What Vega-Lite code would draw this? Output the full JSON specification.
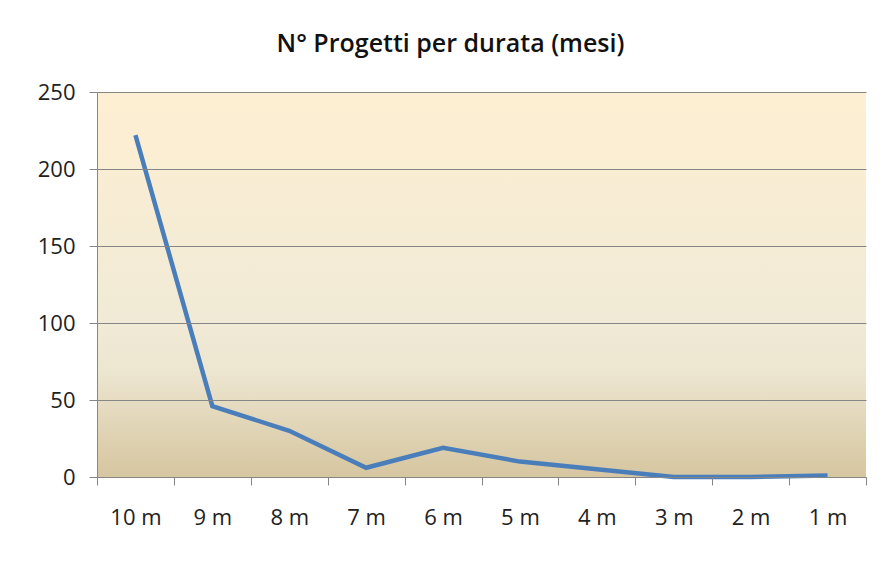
{
  "$schema": "https://vega.github.io/schema/vega-lite/v6.json",
  "width": 769,
  "height": 385,
  "autosize": {"type": "none"},
  "padding": {"left": 97, "top": 92, "right": 20, "bottom": 85},
  "background": "white",
  "config": {
    "view": {"stroke": null},
    "font": "Open Sans",
    "axis": {
      "labelFont": "Open Sans",
      "labelFontSize": 22,
      "labelColor": "#222222",
      "tickSize": 8,
      "tickColor": "#868686",
      "domainColor": "#868686",
      "gridColor": "#868686",
      "gridOpacity": 1,
      "title": null
    }
  },
  "title": {
    "text": "N° Progetti per durata (mesi)",
    "font": "Open Sans",
    "fontSize": 25,
    "fontWeight": 600,
    "color": "#111111",
    "offset": 24,
    "dx": -31
  },
  "data": {
    "values": [
      {"durata": "10 m", "progetti": 222},
      {"durata": "9 m", "progetti": 46},
      {"durata": "8 m", "progetti": 30},
      {"durata": "7 m", "progetti": 6},
      {"durata": "6 m", "progetti": 19},
      {"durata": "5 m", "progetti": 10},
      {"durata": "4 m", "progetti": 5},
      {"durata": "3 m", "progetti": 0},
      {"durata": "2 m", "progetti": 0},
      {"durata": "1 m", "progetti": 1}
    ]
  },
  "layer": [
    {
      "mark": {
        "type": "rect",
        "color": {
          "gradient": "linear",
          "x1": 0, "y1": 0, "x2": 0, "y2": 1,
          "stops": [
            {"offset": 0, "color": "#FEEFD2"},
            {"offset": 0.6, "color": "#F0EAD6"},
            {"offset": 0.72, "color": "#EDE6D1"},
            {"offset": 1, "color": "#D6C6A0"}
          ]
        }
      },
      "encoding": {
        "y": {
          "datum": 0,
          "type": "quantitative",
          "scale": {"domain": [0, 250], "nice": false},
          "axis": {
            "values": [0, 50, 100, 150, 200, 250],
            "labelPadding": 14,
            "grid": true,
            "zindex": 1
          }
        },
        "y2": {"datum": 250}
      }
    },
    {
      "mark": {"type": "line", "color": "#4A7EBB", "strokeWidth": 4.5, "strokeJoin": "miter"},
      "encoding": {
        "x": {
          "field": "durata",
          "type": "nominal",
          "sort": null,
          "scale": {"paddingInner": 0, "paddingOuter": 0},
          "axis": {
            "labelAngle": 0,
            "labelPadding": 22,
            "tickBand": "extent",
            "grid": false,
            "zindex": 1
          }
        },
        "y": {
          "field": "progetti",
          "type": "quantitative"
        }
      }
    }
  ]
}
